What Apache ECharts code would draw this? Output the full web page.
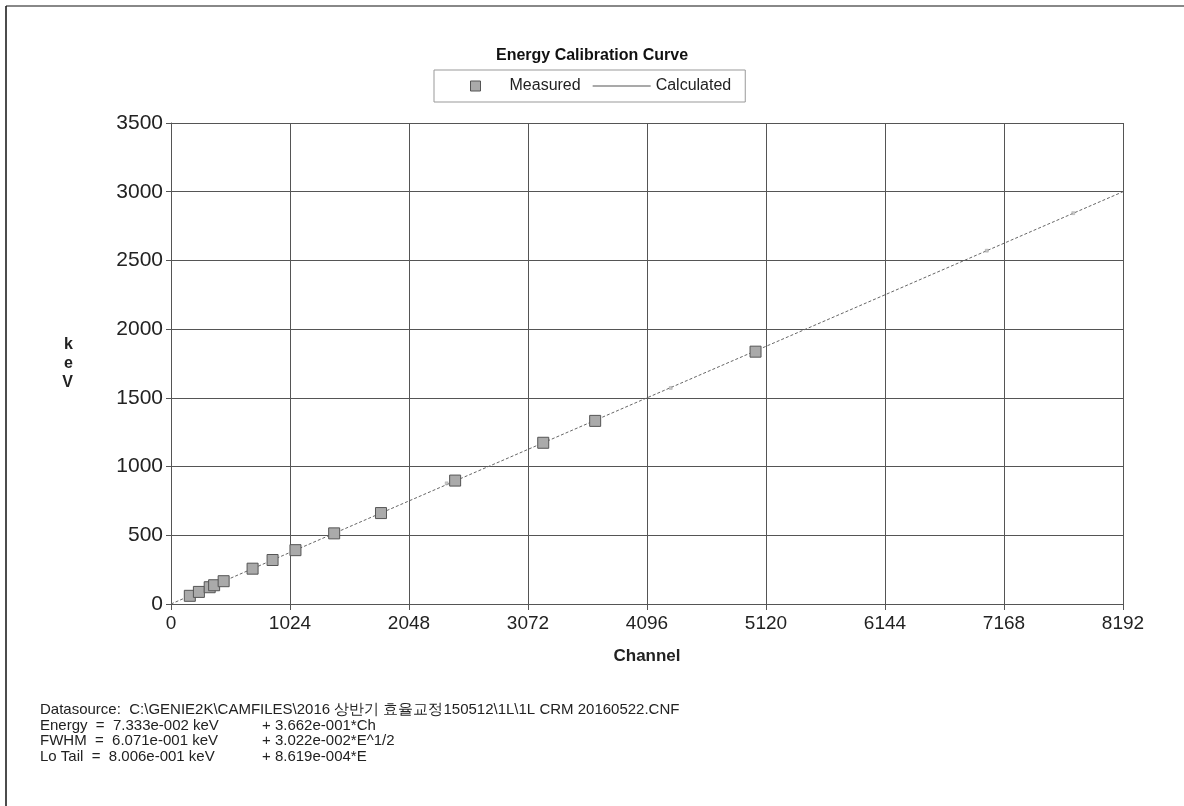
<!DOCTYPE html>
<html>
<head>
<meta charset="utf-8">
<script src="https://cdn.jsdelivr.net/npm/echarts@6/dist/echarts.min.js"></script>
<style>
html,body{margin:0;padding:0;background:#fff;}
#chart{width:1184px;height:806px;}
</style>
</head>
<body>
<div id="chart"></div>
<script>
// ---- data ----
const measuredChannels = [162, 240, 333, 371, 453, 702, 874, 1071, 1404, 1807, 2445, 3203, 3650, 5030];
const measuredKeV      = [59.5, 88.0, 122.1, 136.5, 165.9, 257, 320.1, 391.7, 514.0, 661.7, 898.0, 1173.2, 1332.5, 1836.1];
const calcChannels = [0, 8192];
const calcKeV      = [0.07, 3000.0];
const faintChannels = [2372, 4300, 7020, 7764];
const faintKeV      = [878, 1572, 2571, 2844];
const xTicks = [0, 1024, 2048, 3072, 4096, 5120, 6144, 7168, 8192];
const yTicks = [0, 500, 1000, 1500, 2000, 2500, 3000, 3500];
const footerLabels = [
  'Energy  =  7.333e-002 keV',
  'FWHM  =  6.071e-001 keV',
  'Lo Tail  =  8.006e-001 keV'
];
const footerTerms = ['+ 3.662e-001*Ch', '+ 3.022e-002*E^1/2', '+ 8.619e-004*E'];
const datasource = 'Datasource:  C:\\GENIE2K\\CAMFILES\\2016 상반기 효율교정150512\\1L\\1L CRM 20160522.CNF';

const FONT = 'Liberation Sans, Arial, sans-serif';
const zip = (a, b) => a.map((v, i) => [v, b[i]]);

const chart = echarts.init(document.getElementById('chart'), null, {renderer: 'canvas'});
const gridLine = {show: true, lineStyle: {color: '#555', width: 1}};

chart.setOption({
  backgroundColor: '#fff',
  animation: false,
  title: {
    text: 'Energy Calibration Curve',
    left: 'center', top: 43,
    textStyle: {fontFamily: FONT, fontSize: 16, fontWeight: 'bold', color: '#111'}
  },
  legend: {
    left: 434, top: 70,
    padding: [8, 14, 8, 12],
    borderColor: '#999', borderWidth: 1,
    itemGap: 12, itemWidth: 58, itemHeight: 10,
    textStyle: {fontFamily: FONT, fontSize: 16, color: '#222'},
    data: [
      {name: 'Measured', icon: 'path://M0,0 M24,0 L34,0 L34,10 L24,10 Z M58,10',
        itemStyle: {color: '#aaa', borderColor: '#555', borderWidth: 1}},
      {name: 'Calculated', icon: 'path://M0,0 M0,4.6 L58,4.6 L58,5.4 L0,5.4 Z M58,10',
        itemStyle: {color: '#555', borderWidth: 0}}
    ]
  },
  grid: {left: 171, right: 61, top: 123, bottom: 202},
  xAxis: {
    type: 'value', min: 0, max: 8192, interval: 1024,
    name: 'Channel', nameLocation: 'middle', nameGap: 44,
    nameTextStyle: {fontFamily: FONT, fontSize: 17, fontWeight: 'bold', color: '#222'},
    axisLine: {show: true, lineStyle: {color: '#555'}},
    axisTick: {show: true, length: 6, lineStyle: {color: '#555'}},
    axisLabel: {fontFamily: FONT, fontSize: 19, color: '#222', margin: 10,
      formatter: v => (xTicks.indexOf(v) >= 0 ? String(v) : '')},
    splitLine: gridLine
  },
  yAxis: {
    type: 'value', min: 0, max: 3500, interval: 500,
    name: 'k\ne\nV', nameLocation: 'middle', nameRotate: 0, nameGap: 98,
    nameTextStyle: {fontFamily: FONT, fontSize: 16, fontWeight: 'bold', color: '#222',
      lineHeight: 19, padding: [16, 0, 0, 0]},
    axisLine: {show: true, lineStyle: {color: '#555'}},
    axisTick: {show: true, length: 5, lineStyle: {color: '#555'}},
    axisLabel: {fontFamily: FONT, fontSize: 21, color: '#222', margin: 8,
      formatter: v => (yTicks.indexOf(v) >= 0 ? String(v) : '')},
    splitLine: gridLine
  },
  series: [
    {
      name: 'Calculated', type: 'line',
      data: zip(calcChannels, calcKeV),
      showSymbol: false, symbol: 'none',
      itemStyle: {color: '#555'},
      lineStyle: {color: '#666', width: 1, type: [3, 2]},
      z: 2
    },
    {
      name: 'Measured', type: 'scatter',
      data: zip(measuredChannels, measuredKeV),
      symbol: 'rect', symbolSize: 11,
      itemStyle: {color: '#aaa', borderColor: '#555', borderWidth: 1, opacity: 1},
      z: 3
    },
    {
      name: 'faint', type: 'scatter',
      data: zip(faintChannels, faintKeV),
      symbol: 'rect', symbolSize: 3,
      itemStyle: {color: '#bbb', borderColor: '#999', borderWidth: 0.5},
      silent: true, z: 3
    }
  ],
  graphic: [
    {type: 'line', shape: {x1: 6, y1: 6, x2: 1184, y2: 6}, style: {stroke: '#888', lineWidth: 2}},
    {type: 'line', shape: {x1: 6, y1: 6, x2: 6, y2: 806}, style: {stroke: '#111', lineWidth: 1.5}},
    {type: 'text', left: 40, top: 702,
      style: {text: datasource, font: '15px ' + FONT, fill: '#222'}},
    {type: 'text', left: 40, top: 718,
      style: {text: footerLabels.join('\n'), font: '15px ' + FONT, fill: '#222', lineHeight: 15.5}},
    {type: 'text', left: 262, top: 718,
      style: {text: footerTerms.join('\n'), font: '15px ' + FONT, fill: '#222', lineHeight: 15.5}}
  ]
});
</script>
</body>
</html>
